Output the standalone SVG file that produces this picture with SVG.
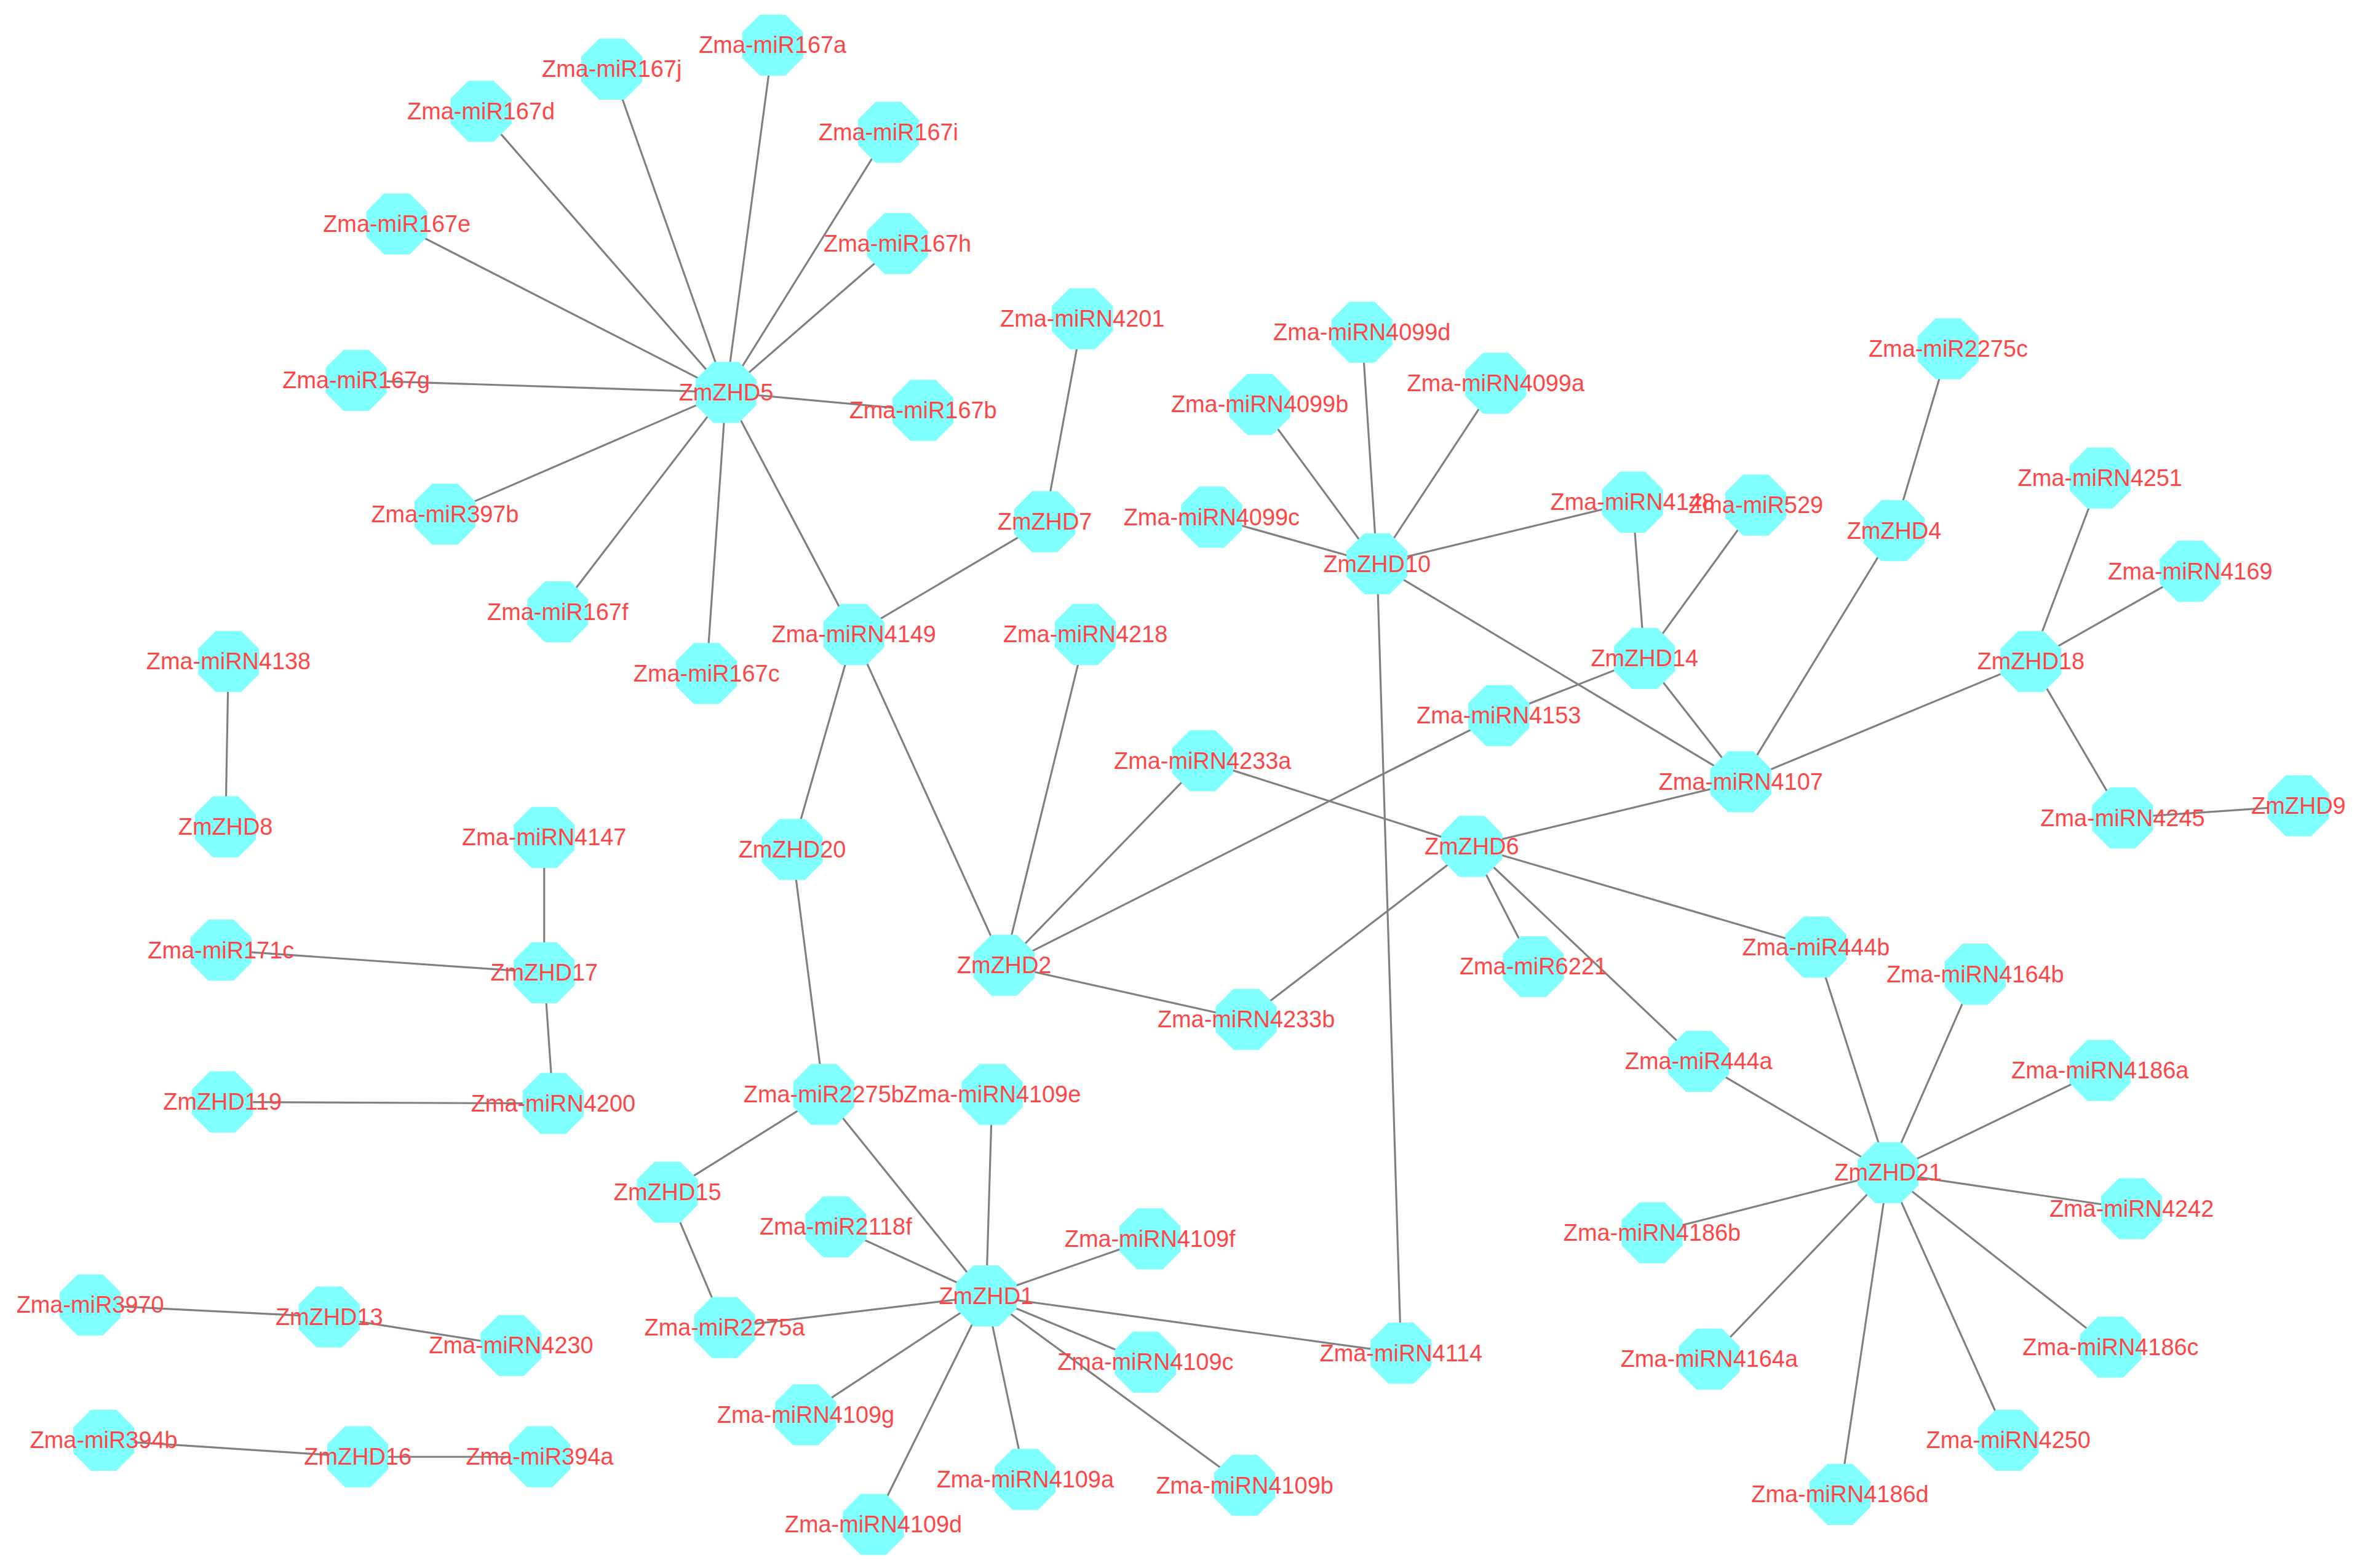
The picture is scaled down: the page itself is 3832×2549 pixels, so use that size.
<svg xmlns="http://www.w3.org/2000/svg" xmlns:xlink="http://www.w3.org/1999/xlink" width="3832" height="2549" viewBox="0 0 3832 2549">
<style>
.e{stroke:#808080;stroke-width:1.3;fill:none}
.o{fill:#80ffff}
text{font-family:"Liberation Sans",Arial,sans-serif;font-size:15.5px;fill:#ff4646;text-anchor:middle;dominant-baseline:central}
</style>
<defs><polygon id="oct" class="o" points="20.3,8.4 8.4,20.3 -8.4,20.3 -20.3,8.4 -20.3,-8.4 -8.4,-20.3 8.4,-20.3 20.3,-8.4"/></defs>
<rect width="3832" height="2549" fill="#fff"/>
<g transform="scale(2.444)">
<g id="connectors" class="e">
<path d="M483 261L514 30M483 261L407 46M483 261L320 74M483 261L591 88M483 261L264 149M483 261L597 162M483 261L237 253M483 261L614 273M483 261L296 342M483 261L371 407M483 261L470 448M483 261L568 422"/>
<path d="M568 422L695 347M568 422L527 565M568 422L668 642M695 347L720 212"/>
<path d="M668 642L722 422M668 642L800 506M668 642L829 678M668 642L997 476M997 476L1094 438"/>
<path d="M527 565L548 728M548 728L444 793M548 728L656 862M444 793L482 883"/>
<path d="M656 862L482 883M656 862L556 816M656 862L660 728M656 862L765 824M656 862L762 906M656 862L536 941M656 862L682 984M656 862L828 988M656 862L581 1014M656 862L932 900M932 900L916 375"/>
<path d="M152 440L150 550M362 647L362 557M362 647L147 632M362 647L368 734M368 734L148 733M219 876L60 868M219 876L340 895M238 969L69 958M238 969L359 969"/>
<path d="M916 375L906 221M916 375L838 269M916 375L995 255M916 375L806 344M916 375L1086 334M916 375L1158 520"/>
<path d="M1094 438L1086 334M1094 438L1168 336M1094 438L1158 520M1260 353L1296 232M1260 353L1158 520"/>
<path d="M1351 440L1397 318M1351 440L1457 380M1351 440L1158 520M1351 440L1412 544M1412 544L1529 536"/>
<path d="M979 563L1158 520M979 563L800 506M979 563L829 678M979 563L1020 643M979 563L1208 630M979 563L1130 706"/>
<path d="M1256 780L1208 630M1256 780L1130 706M1256 780L1314 648M1256 780L1397 712M1256 780L1099 820M1256 780L1418 804M1256 780L1137 904M1256 780L1404 896M1256 780L1336 958M1256 780L1224 994"/>
</g>
<g id="n1"><use href="#oct" x="483" y="261"/><text x="483" y="261">ZmZHD5</text></g>
<g id="n2"><use href="#oct" x="514" y="30"/><text x="514" y="30">Zma-miR167a</text></g>
<g id="n3"><use href="#oct" x="407" y="46"/><text x="407" y="46">Zma-miR167j</text></g>
<g id="n4"><use href="#oct" x="320" y="74"/><text x="320" y="74">Zma-miR167d</text></g>
<g id="n5"><use href="#oct" x="591" y="88"/><text x="591" y="88">Zma-miR167i</text></g>
<g id="n6"><use href="#oct" x="264" y="149"/><text x="264" y="149">Zma-miR167e</text></g>
<g id="n7"><use href="#oct" x="597" y="162"/><text x="597" y="162">Zma-miR167h</text></g>
<g id="n8"><use href="#oct" x="237" y="253"/><text x="237" y="253">Zma-miR167g</text></g>
<g id="n9"><use href="#oct" x="614" y="273"/><text x="614" y="273">Zma-miR167b</text></g>
<g id="n10"><use href="#oct" x="296" y="342"/><text x="296" y="342">Zma-miR397b</text></g>
<g id="n11"><use href="#oct" x="371" y="407"/><text x="371" y="407">Zma-miR167f</text></g>
<g id="n12"><use href="#oct" x="470" y="448"/><text x="470" y="448">Zma-miR167c</text></g>
<g id="n13"><use href="#oct" x="568" y="422"/><text x="568" y="422">Zma-miRN4149</text></g>
<g id="n14"><use href="#oct" x="695" y="347"/><text x="695" y="347">ZmZHD7</text></g>
<g id="n15"><use href="#oct" x="720" y="212"/><text x="720" y="212">Zma-miRN4201</text></g>
<g id="n16"><use href="#oct" x="722" y="422"/><text x="722" y="422">Zma-miRN4218</text></g>
<g id="n17"><use href="#oct" x="527" y="565"/><text x="527" y="565">ZmZHD20</text></g>
<g id="n18"><use href="#oct" x="668" y="642"/><text x="668" y="642">ZmZHD2</text></g>
<g id="n19"><use href="#oct" x="548" y="728"/><text x="548" y="728">Zma-miR2275b</text></g>
<g id="n20"><use href="#oct" x="660" y="728"/><text x="660" y="728">Zma-miRN4109e</text></g>
<g id="n21"><use href="#oct" x="444" y="793"/><text x="444" y="793">ZmZHD15</text></g>
<g id="n22"><use href="#oct" x="556" y="816"/><text x="556" y="816">Zma-miR2118f</text></g>
<g id="n23"><use href="#oct" x="656" y="862"/><text x="656" y="862">ZmZHD1</text></g>
<g id="n24"><use href="#oct" x="765" y="824"/><text x="765" y="824">Zma-miRN4109f</text></g>
<g id="n25"><use href="#oct" x="482" y="883"/><text x="482" y="883">Zma-miR2275a</text></g>
<g id="n26"><use href="#oct" x="762" y="906"/><text x="762" y="906">Zma-miRN4109c</text></g>
<g id="n27"><use href="#oct" x="932" y="900"/><text x="932" y="900">Zma-miRN4114</text></g>
<g id="n28"><use href="#oct" x="536" y="941"/><text x="536" y="941">Zma-miRN4109g</text></g>
<g id="n29"><use href="#oct" x="682" y="984"/><text x="682" y="984">Zma-miRN4109a</text></g>
<g id="n30"><use href="#oct" x="828" y="988"/><text x="828" y="988">Zma-miRN4109b</text></g>
<g id="n31"><use href="#oct" x="581" y="1014"/><text x="581" y="1014">Zma-miRN4109d</text></g>
<g id="n32"><use href="#oct" x="152" y="440"/><text x="152" y="440">Zma-miRN4138</text></g>
<g id="n33"><use href="#oct" x="150" y="550"/><text x="150" y="550">ZmZHD8</text></g>
<g id="n34"><use href="#oct" x="362" y="557"/><text x="362" y="557">Zma-miRN4147</text></g>
<g id="n35"><use href="#oct" x="147" y="632"/><text x="147" y="632">Zma-miR171c</text></g>
<g id="n36"><use href="#oct" x="362" y="647"/><text x="362" y="647">ZmZHD17</text></g>
<g id="n37"><use href="#oct" x="148" y="733"/><text x="148" y="733">ZmZHD119</text></g>
<g id="n38"><use href="#oct" x="368" y="734"/><text x="368" y="734">Zma-miRN4200</text></g>
<g id="n39"><use href="#oct" x="60" y="868"/><text x="60" y="868">Zma-miR3970</text></g>
<g id="n40"><use href="#oct" x="219" y="876"/><text x="219" y="876">ZmZHD13</text></g>
<g id="n41"><use href="#oct" x="340" y="895"/><text x="340" y="895">Zma-miRN4230</text></g>
<g id="n42"><use href="#oct" x="69" y="958"/><text x="69" y="958">Zma-miR394b</text></g>
<g id="n43"><use href="#oct" x="238" y="969"/><text x="238" y="969">ZmZHD16</text></g>
<g id="n44"><use href="#oct" x="359" y="969"/><text x="359" y="969">Zma-miR394a</text></g>
<g id="n45"><use href="#oct" x="906" y="221"/><text x="906" y="221">Zma-miRN4099d</text></g>
<g id="n46"><use href="#oct" x="838" y="269"/><text x="838" y="269">Zma-miRN4099b</text></g>
<g id="n47"><use href="#oct" x="995" y="255"/><text x="995" y="255">Zma-miRN4099a</text></g>
<g id="n48"><use href="#oct" x="806" y="344"/><text x="806" y="344">Zma-miRN4099c</text></g>
<g id="n49"><use href="#oct" x="916" y="375"/><text x="916" y="375">ZmZHD10</text></g>
<g id="n50"><use href="#oct" x="1086" y="334"/><text x="1086" y="334">Zma-miRN4148</text></g>
<g id="n51"><use href="#oct" x="1168" y="336"/><text x="1168" y="336">Zma-miR529</text></g>
<g id="n52"><use href="#oct" x="1260" y="353"/><text x="1260" y="353">ZmZHD4</text></g>
<g id="n53"><use href="#oct" x="1296" y="232"/><text x="1296" y="232">Zma-miR2275c</text></g>
<g id="n54"><use href="#oct" x="1397" y="318"/><text x="1397" y="318">Zma-miRN4251</text></g>
<g id="n55"><use href="#oct" x="1457" y="380"/><text x="1457" y="380">Zma-miRN4169</text></g>
<g id="n56"><use href="#oct" x="1094" y="438"/><text x="1094" y="438">ZmZHD14</text></g>
<g id="n57"><use href="#oct" x="1351" y="440"/><text x="1351" y="440">ZmZHD18</text></g>
<g id="n58"><use href="#oct" x="997" y="476"/><text x="997" y="476">Zma-miRN4153</text></g>
<g id="n59"><use href="#oct" x="800" y="506"/><text x="800" y="506">Zma-miRN4233a</text></g>
<g id="n60"><use href="#oct" x="1158" y="520"/><text x="1158" y="520">Zma-miRN4107</text></g>
<g id="n61"><use href="#oct" x="979" y="563"/><text x="979" y="563">ZmZHD6</text></g>
<g id="n62"><use href="#oct" x="1412" y="544"/><text x="1412" y="544">Zma-miRN4245</text></g>
<g id="n63"><use href="#oct" x="1529" y="536"/><text x="1529" y="536">ZmZHD9</text></g>
<g id="n64"><use href="#oct" x="1020" y="643"/><text x="1020" y="643">Zma-miR6221</text></g>
<g id="n65"><use href="#oct" x="1208" y="630"/><text x="1208" y="630">Zma-miR444b</text></g>
<g id="n66"><use href="#oct" x="829" y="678"/><text x="829" y="678">Zma-miRN4233b</text></g>
<g id="n67"><use href="#oct" x="1314" y="648"/><text x="1314" y="648">Zma-miRN4164b</text></g>
<g id="n68"><use href="#oct" x="1130" y="706"/><text x="1130" y="706">Zma-miR444a</text></g>
<g id="n69"><use href="#oct" x="1397" y="712"/><text x="1397" y="712">Zma-miRN4186a</text></g>
<g id="n70"><use href="#oct" x="1256" y="780"/><text x="1256" y="780">ZmZHD21</text></g>
<g id="n71"><use href="#oct" x="1099" y="820"/><text x="1099" y="820">Zma-miRN4186b</text></g>
<g id="n72"><use href="#oct" x="1418" y="804"/><text x="1418" y="804">Zma-miRN4242</text></g>
<g id="n73"><use href="#oct" x="1137" y="904"/><text x="1137" y="904">Zma-miRN4164a</text></g>
<g id="n74"><use href="#oct" x="1404" y="896"/><text x="1404" y="896">Zma-miRN4186c</text></g>
<g id="n75"><use href="#oct" x="1336" y="958"/><text x="1336" y="958">Zma-miRN4250</text></g>
<g id="n76"><use href="#oct" x="1224" y="994"/><text x="1224" y="994">Zma-miRN4186d</text></g>
</g>
</svg>
